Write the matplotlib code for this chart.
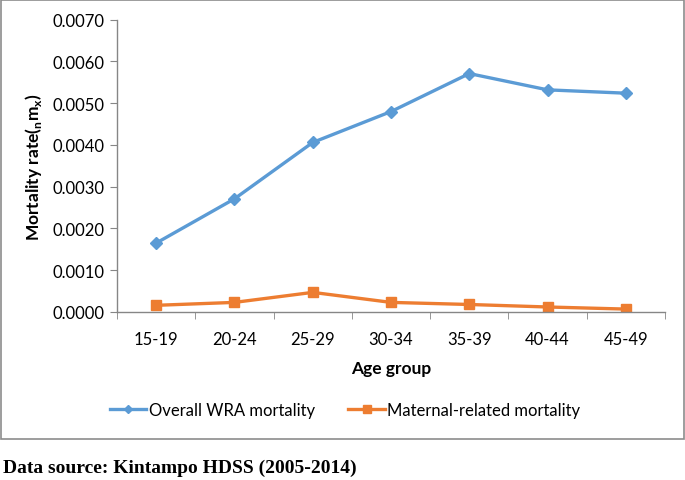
import matplotlib
matplotlib.use("Agg")
import matplotlib.pyplot as plt
from matplotlib.patches import Rectangle
import numpy as np

plt.rcParams['font.family'] = ['Lato', 'DejaVu Sans']
plt.rcParams['mathtext.fontset'] = 'custom'
plt.rcParams['mathtext.rm'] = 'Lato'
plt.rcParams['mathtext.bf'] = 'Lato:bold'

age_groups = ["15-19", "20-24", "25-29", "30-34", "35-39", "40-44", "45-49"]
overall_wra = [0.00165, 0.00271, 0.00406, 0.00480, 0.00571, 0.00532, 0.00524]
maternal = [0.00016, 0.00023, 0.00047, 0.00023, 0.00018, 0.00012, 0.00007]
y_ticks = [0.0, 0.001, 0.002, 0.003, 0.004, 0.005, 0.006, 0.007]

blue = '#5B9BD5'
orange = '#ED7D31'
grey = '#868686'

fig = plt.figure(figsize=(6.85, 4.81), dpi=100)
ax = fig.add_axes([117/685, 1 - 313/481, (665 - 117)/685, (313 - 20.7)/481])

x = np.arange(len(age_groups))
ax.plot(x, overall_wra, color=blue, lw=2.4, marker='D', markersize=6,
        label='Overall WRA mortality')
ax.plot(x, maternal, color=orange, lw=2.4, marker='s', markersize=7.5,
        label='Maternal-related mortality')

ax.set_xlim(-0.5, len(age_groups) - 0.5)
ax.set_ylim(0, 0.007)
ax.set_yticks(y_ticks)
ax.set_yticklabels([f"{v:.4f}" for v in y_ticks], fontsize=12)
ax.set_xticks(x)
ax.set_xticklabels(age_groups, fontsize=12)
ax.set_xticks(np.arange(-0.5, len(age_groups)), minor=True)
ax.tick_params(axis='x', which='major', length=0, pad=14)
ax.tick_params(axis='x', which='minor', length=5, color=grey, direction='out')
ax.tick_params(axis='y', length=5, color=grey, direction='out', pad=4)

for s in ['top', 'right']:
    ax.spines[s].set_visible(False)
for s in ['left', 'bottom']:
    ax.spines[s].set_color(grey)
    ax.spines[s].set_linewidth(1)

ax.set_xlabel('Age group', fontsize=12.5, fontweight='bold', labelpad=9)
ax.set_ylabel(r'Mortality rate($_{\mathbf{n}}\mathbf{m}_{\mathbf{x}}$)',
              fontsize=12.5, fontweight='bold', labelpad=6)

ax.legend(loc='center', bbox_to_anchor=(345/685, 1 - 411/481),
          bbox_transform=fig.transFigure, ncol=2, frameon=False,
          fontsize=12, handlelength=2.2, handletextpad=0.15, columnspacing=2.0,
          markerscale=0.7)

fig.patches.append(Rectangle((1/685, 1 - 440/481), 683/685, 439/481,
                             transform=fig.transFigure, fill=False,
                             edgecolor='#8c8c8c', lw=1.2))

fig.text(3/685, 1 - 468/481, 'Data source: Kintampo HDSS (2005-2014)',
         fontsize=14, fontweight='bold', family='Liberation Serif',
         ha='left', va='center')

fig.savefig('out.png', dpi=100)
